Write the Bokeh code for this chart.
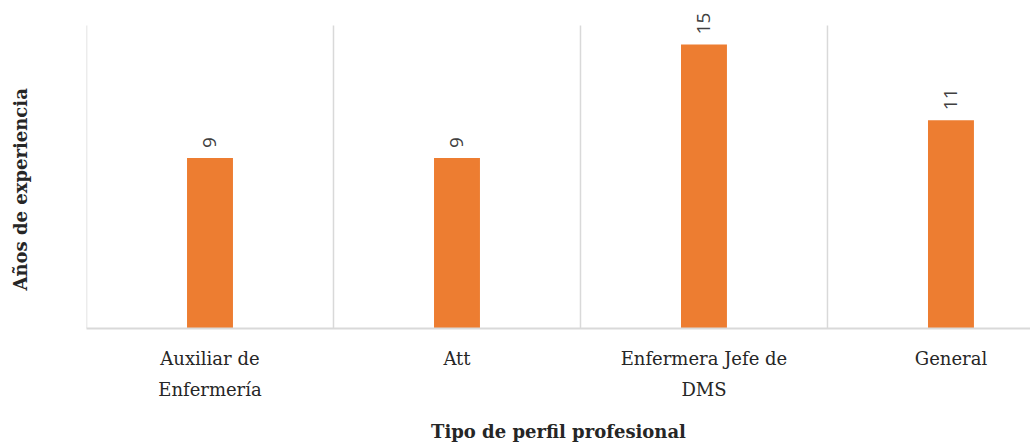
from bokeh.plotting import figure
from bokeh.models import Range1d, FixedTicker, ColumnDataSource, Title
from bokeh.core.properties import value
from bokeh.embed import file_html
from bokeh.resources import INLINE
import math

categories = ["Auxiliar de\nEnfermería", "Att", "Enfermera Jefe de\nDMS", "General"]
years = [9, 9, 15, 11]
y_max = 16

centers = [i + 0.5 for i in range(len(categories))]
bounds = list(range(len(categories) + 1))
source = ColumnDataSource(dict(x=centers, y=years, label=[str(v) for v in years]))
grid_src = ColumnDataSource(dict(x=bounds, y0=[0] * len(bounds), y1=[y_max] * len(bounds)))

# frame is 328 px tall; value-axis maximum sits 25 px below frame top
y_end = y_max * 328 / 303
p = figure(width=1030, height=445, output_backend="svg", toolbar_location=None,
           x_range=Range1d(0, 3.822), y_range=Range1d(0, y_end))
p.min_border_left = 86
p.min_border_right = 0
p.min_border_top = 0
p.min_border_bottom = 117
p.outline_line_color = None
p.background_fill_color = "white"
p.border_fill_color = "white"
p.xgrid.grid_line_color = None
p.ygrid.grid_line_color = None

p.segment(x0="x", y0="y0", x1="x", y1="y1", source=grid_src,
          line_color="#d9d9d9", line_width=1.5)

p.vbar(x="x", top="y", width=0.186, bottom=0, source=source,
       fill_color="#ED7D31", line_color=None)

p.text(x="x", y="y", text="label", source=source, angle=math.pi / 2,
       text_align="left", text_baseline="middle", y_offset=-10,
       text_font=value("Open Sans"), text_font_size="19px", text_color="#404040")

xa = p.xaxis[0]
xa.ticker = FixedTicker(ticks=centers)
xa.major_label_overrides = {c: lab for c, lab in zip(centers, categories)}
xa.major_tick_line_color = None
xa.minor_tick_line_color = None
xa.axis_line_color = "#d9d9d9"
xa.axis_line_width = 2
xa.major_label_text_font = "DejaVu Serif"
xa.major_label_text_font_size = "18px"
xa.major_label_text_line_height = 1.5
xa.major_label_text_color = "#262626"
xa.major_label_standoff = 13
xa.axis_label = "Tipo de perfil profesional"
xa.axis_label_text_font = "DejaVu Serif"
xa.axis_label_text_font_style = "bold"
xa.axis_label_text_font_size = "18px"
xa.axis_label_text_color = "#262626"
xa.axis_label_standoff = 18

# empty value axis (no ticks, no labels) used only as spacer next to the frame
ya = p.yaxis[0]
ya.ticker = FixedTicker(ticks=[])
ya.major_tick_line_color = None
ya.minor_tick_line_color = None
ya.axis_line_color = None
ya.major_label_text_font_size = "0px"
ya.axis_label = " "
ya.axis_label_text_font_size = "18px"
ya.axis_label_standoff = 28

ytitle = Title(text="Años de experiencia", align="left", offset=38,
               vertical_align="bottom", standoff=10,
               text_font="DejaVu Serif", text_font_style="bold",
               text_font_size="18px", text_color="#262626")
p.add_layout(ytitle, "left")

open("out.html", "w").write(file_html(p, INLINE))
